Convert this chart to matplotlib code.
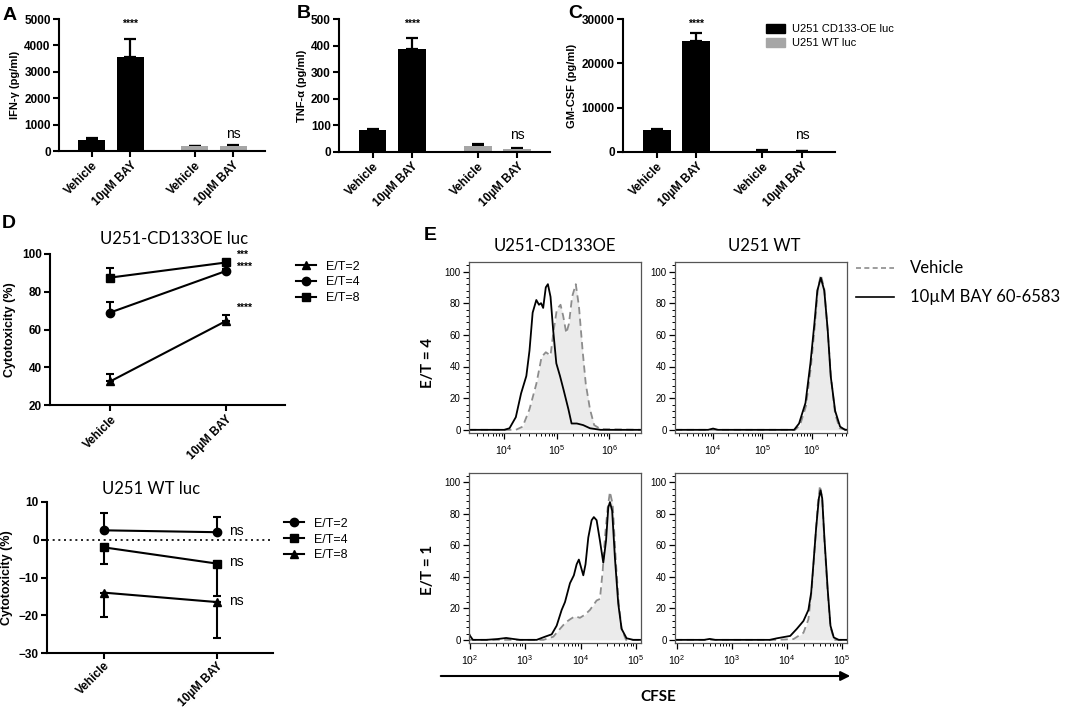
import numpy as np
import matplotlib
matplotlib.use("Agg")
import matplotlib.pyplot as plt
from matplotlib.patches import Patch, FancyArrowPatch
from matplotlib.lines import Line2D
from matplotlib.ticker import MultipleLocator, LogLocator, LogFormatterMathtext, NullFormatter

plt.rcParams['font.family'] = ['Liberation Sans', 'DejaVu Sans']
TITLE_FONT = ['Lato', 'DejaVu Sans']

# ---- data: cytokine release (A-C)
bar_labels = ["Vehicle", "10µM BAY", "Vehicle", "10µM BAY"]
cell_lines = ["U251 CD133-OE luc", "U251 WT luc"]

ifn_oe = [430, 3570]
ifn_oe_err = [50, 660]
ifn_wt = [178, 190]
ifn_wt_err = [27, 26]

tnf_oe = [84, 386]
tnf_oe_err = [3, 41]
tnf_wt = [23, 13]
tnf_wt_err = [8, 2]

gm_oe = [4900, 25100]
gm_oe_err = [380, 1800]
gm_wt = [320, 150]
gm_wt_err = [120, 60]

# ---- data: cytotoxicity (D)
d_cats = ["Vehicle", "10µM BAY"]
oe_labels = ["E/T=2", "E/T=4", "E/T=8"]
oe_cyto = [[32.5, 64.5], [69.0, 91.0], [87.5, 95.5]]
oe_err_up = [[4.0, 3.0], [5.5, 1.2], [5.0, 1.0]]
oe_stars = ["****", "****", "***"]

wt_labels = ["E/T=2", "E/T=4", "E/T=8"]
wt_cyto = [[2.5, 2.0], [-2.0, -6.3], [-14.0, -16.5]]
wt_err_up = [[4.5, 4.0], [0, 0], [0, 0]]
wt_err_dn = [[0, 0], [4.5, 8.7], [6.5, 9.5]]

# ---- data: CFSE histograms (E), log10(CFSE) and % of max
tl_bay_lx = [3.33, 3.8, 4.0, 4.1, 4.22, 4.32, 4.42, 4.48, 4.54, 4.61, 4.66, 4.70, 4.74, 4.79, 4.83,
             4.88, 4.93, 4.99, 5.06, 5.13, 5.22, 5.28, 5.38, 5.5, 5.63, 5.83, 6.6]
tl_bay_y = [0, 0, 0, 1, 8, 23, 34, 50, 74, 82, 79, 80, 77, 90, 92,
            84, 63, 42, 34, 25, 13, 4, 4, 3, 1, 0, 0]
tl_veh_lx = [3.33, 4.22, 4.35, 4.48, 4.61, 4.71, 4.79, 4.88, 4.94, 5.0, 5.07, 5.12, 5.18, 5.23,
             5.29, 5.36, 5.42, 5.49, 5.55, 5.63, 5.71, 5.83, 6.6]
tl_veh_y = [0, 0, 2, 13, 29, 46, 49, 47, 63, 76, 79, 72, 61, 67,
            84, 92, 78, 50, 29, 13, 3, 0.5, 0]

tr_bay_lx = [3.23, 3.9, 4.0, 4.1, 5.64, 5.74, 5.87, 5.97, 6.05, 6.11, 6.18, 6.25, 6.32, 6.38,
             6.47, 6.57, 6.67, 6.71]
tr_bay_y = [0, 0, 0.8, 0, 0, 4, 17, 42, 67, 88, 96, 88, 63, 34, 12, 2, 0, 0]
tr_veh_lx = [3.23, 5.66, 5.76, 5.88, 5.98, 6.06, 6.12, 6.18, 6.25, 6.32, 6.39, 6.47, 6.56, 6.71]
tr_veh_y = [0, 0, 3, 15, 40, 66, 89, 98, 89, 62, 32, 10, 1, 0]

bl_bay_lx = [1.99, 2.01, 2.06, 2.3, 2.5, 2.66, 2.8, 2.91, 3.21, 3.36, 3.48, 3.57, 3.66, 3.72,
             3.81, 3.88, 3.93, 3.97, 4.01, 4.05, 4.09, 4.14, 4.2, 4.24, 4.29, 4.35, 4.41, 4.46,
             4.5, 4.53, 4.57, 4.62, 4.68, 4.74, 4.83, 4.95, 5.09]
bl_bay_y = [4, 2.5, 0, 0, 0.5, 1.2, 0.5, 0, 0, 2, 3.5, 9, 19, 24,
            36, 41, 48, 51, 46, 41, 48, 65, 76, 78, 76, 63, 49, 63,
            84, 87.5, 82, 52, 23, 7, 1, 0, 0]
bl_veh_lx = [1.99, 3.33, 3.51, 3.63, 3.73, 3.81, 3.9, 3.99, 4.08, 4.17, 4.29, 4.35, 4.4, 4.44,
             4.49, 4.53, 4.58, 4.64, 4.69, 4.74, 4.82, 5.09]
bl_veh_y = [0, 0, 2, 7, 11, 13, 15, 14, 16, 19, 25, 26, 44, 65,
            84, 94, 86, 48, 23, 7, 0, 0]

br_bay_lx = [1.97, 2.5, 2.6, 2.7, 3.69, 3.82, 4.06, 4.18, 4.3, 4.39, 4.44, 4.48, 4.53, 4.58,
             4.61, 4.64, 4.68, 4.74, 4.79, 4.85, 4.94, 5.09]
br_bay_y = [0, 0, 0.6, 0, 0, 1, 2.5, 7, 12, 19, 30, 48, 71, 90,
            95, 90, 65, 32, 9, 1.5, 0, 0]
br_veh_lx = [1.97, 3.82, 4.12, 4.3, 4.39, 4.45, 4.51, 4.56, 4.6, 4.64, 4.68, 4.74, 4.79, 4.86, 5.09]
br_veh_y = [0, 0, 0.5, 4.5, 13, 32, 61, 86, 98, 90, 63, 30, 8, 0, 0]

W, H = 1065, 711
fig = plt.figure(figsize=(W / 100, H / 100), dpi=100)


def box(x0, y0, x1, y1):
    # pixel box (top-left origin) -> figure fraction
    return [x0 / W, 1 - y1 / H, (x1 - x0) / W, (y1 - y0) / H]


def fx(x):
    return x / W


def fy(y):
    return 1 - y / H


def style_axes(ax, lw=1.5, size=8.5):
    for s in ['top', 'right']:
        ax.spines[s].set_visible(False)
    for s in ['left', 'bottom']:
        ax.spines[s].set_linewidth(lw)
    ax.tick_params(width=lw, length=4, labelsize=size, pad=2)
    for t in ax.get_yticklabels():
        t.set_fontweight('bold')


def bar_panel(rect, oe, oe_err, wt, wt_err, ymax, ystep, ylabel):
    ax = fig.add_axes(rect)
    pos = np.array([0, 1, 2.67, 3.67])
    vals = oe + wt
    errs = oe_err + wt_err
    colors = ['black', 'black', '#a6a6a6', '#a6a6a6']
    ax.errorbar(pos, vals, yerr=[np.zeros(4), errs], fmt='none', ecolor='black',
                elinewidth=1.6, capsize=4, capthick=1.6, zorder=1)
    ax.bar(pos, vals, width=0.7, color=colors, zorder=2)
    ax.set_xlim(-0.85, 4.5)
    ax.set_ylim(0, ymax)
    ax.set_yticks(np.arange(0, ymax + 1, ystep))
    ax.set_xticks(pos)
    ax.set_xticklabels(bar_labels, rotation=45, ha='right', rotation_mode='anchor',
                       fontweight='bold', fontsize=8.5)
    ax.set_ylabel(ylabel, fontweight='bold', fontsize=8, labelpad=3)
    style_axes(ax)
    ax.text(pos[1], ymax * 0.965, "****", ha='center', va='center', fontsize=7.5, fontweight='bold')
    ax.text(pos[3], ymax * 0.13, "ns", ha='center', va='center', fontsize=10)
    return ax


bar_panel(box(59, 19, 265, 151), ifn_oe, ifn_oe_err, ifn_wt, ifn_wt_err, 5000, 1000, "IFN-γ (pg/ml)")
bar_panel(box(339, 19, 550, 152), tnf_oe, tnf_oe_err, tnf_wt, tnf_wt_err, 500, 100, "TNF-α (pg/ml)")
bar_panel(box(623, 19, 835, 152), gm_oe, gm_oe_err, gm_wt, gm_wt_err, 30000, 10000, "GM-CSF (pg/ml)")

fig.legend(handles=[Patch(color='black'), Patch(color='#a6a6a6')], labels=cell_lines,
           loc='upper left', bbox_to_anchor=(fx(756), fy(14)), frameon=False, fontsize=8,
           handlelength=1.7, handleheight=0.8, handletextpad=0.6, labelspacing=0.35)

fig.text(fx(3), fy(15), "A", fontsize=14, fontweight='bold', va='center')
fig.text(fx(297), fy(14), "B", fontsize=14, fontweight='bold', va='center')
fig.text(fx(568), fy(14), "C", fontsize=14, fontweight='bold', va='center')
fig.text(fx(2), fy(223), "D", fontsize=14, fontweight='bold', va='center')
fig.text(fx(424), fy(235), "E", fontsize=14, fontweight='bold', va='center')


def marker_handles(markers, labels):
    return [Line2D([], [], color='black', lw=1.5, marker=m, ms=6) for m in markers], labels


# ---- D: cytotoxicity
markers_top = ['^', 'o', 's']
ax = fig.add_axes(box(50, 254, 285, 405))
for i in range(3):
    ax.errorbar([0, 1], oe_cyto[i], yerr=[[0, 0], oe_err_up[i]], color='black', lw=1.5,
                marker=markers_top[i], ms=6, capsize=3, capthick=1.5, elinewidth=1.5)
ax.set_xlim(-0.52, 1.51)
ax.set_ylim(20, 100)
ax.set_yticks([20, 40, 60, 80, 100])
ax.set_xticks([0, 1])
ax.set_xticklabels(d_cats, rotation=45, ha='right', rotation_mode='anchor', fontweight='bold', fontsize=8.5)
ax.set_ylabel("Cytotoxicity (%)", fontweight='bold', fontsize=9)
style_axes(ax)
for i, yy in enumerate([71.5, 93.0, 99.5]):
    ax.text(1.09, yy, oe_stars[i], fontsize=7.5, fontweight='bold', va='center')
fig.text(fx(174), fy(239), "U251-CD133OE luc", family=TITLE_FONT, fontsize=12, ha='center', va='center')
h, l = marker_handles(markers_top, oe_labels)
ax.legend(h, l, loc='upper left', bbox_to_anchor=(1.0, 1.03), frameon=False, fontsize=9,
          handlelength=1.6, labelspacing=0.3)

markers_bot = ['o', 's', '^']
ax = fig.add_axes(box(47, 502, 273, 653))
ax.axhline(0, color='black', ls=(0, (1.2, 2.2)), lw=1.2)
for i in range(3):
    ax.errorbar([0, 1], wt_cyto[i], yerr=[wt_err_dn[i], wt_err_up[i]], color='black', lw=1.5,
                marker=markers_bot[i], ms=6, capsize=3, capthick=1.5, elinewidth=1.5)
    ax.text(1.11, wt_cyto[i][1] + 0.4, "ns", fontsize=10, va='center')
ax.set_xlim(-0.5, 1.5)
ax.set_ylim(-30, 10)
ax.set_yticks([-30, -20, -10, 0, 10])
ax.set_xticks([0, 1])
ax.set_xticklabels(d_cats, rotation=45, ha='right', rotation_mode='anchor', fontweight='bold', fontsize=7.5)
ax.set_ylabel("Cytotoxicity (%)", fontweight='bold', fontsize=9)
style_axes(ax)
ax.tick_params(axis='x', pad=1)
fig.text(fx(151), fy(489), "U251 WT luc", family=TITLE_FONT, fontsize=12, ha='center', va='center')
h, l = marker_handles(markers_bot, wt_labels)
ax.legend(h, l, loc='upper left', bbox_to_anchor=(1.0, 0.97), frameon=False, fontsize=9,
          handlelength=1.6, labelspacing=0.3)


# ---- E: CFSE histograms
def hist_panel(rect, bay_lx, bay_y, veh_lx, veh_y, lo, hi):
    ax = fig.add_axes(rect)
    ax.set_xscale('log')
    vx = 10 ** np.array(veh_lx)
    ax.fill_between(vx, veh_y, color='#ebebeb', lw=0)
    ax.plot(vx, veh_y, color='#8c8c8c', ls=(0, (4, 2.5)), lw=1.3)
    ax.plot(10 ** np.array(bay_lx), bay_y, color='black', lw=1.3)
    ax.set_xlim(10 ** lo, 10 ** hi)
    ax.set_ylim(-2, 106)
    ax.yaxis.set_major_locator(MultipleLocator(20))
    ax.yaxis.set_minor_locator(MultipleLocator(4))
    ax.xaxis.set_major_locator(LogLocator(base=10))
    ax.xaxis.set_minor_locator(LogLocator(base=10, subs=np.arange(2, 10)))
    ax.xaxis.set_major_formatter(LogFormatterMathtext())
    ax.xaxis.set_minor_formatter(NullFormatter())
    for s in ax.spines.values():
        s.set_color('#555555')
        s.set_linewidth(0.9)
    ax.tick_params(which='major', length=4, width=0.9, labelsize=7, pad=2)
    ax.tick_params(axis='x', which='major', labelsize=7.5, pad=3)
    ax.tick_params(which='minor', length=2, width=0.7)
    return ax


hist_panel(box(469, 262, 641, 433), tl_bay_lx, tl_bay_y, tl_veh_lx, tl_veh_y, 3.33, 6.6)
hist_panel(box(675, 262, 847, 433), tr_bay_lx, tr_bay_y, tr_veh_lx, tr_veh_y, 3.23, 6.71)
hist_panel(box(469, 473, 641, 643), bl_bay_lx, bl_bay_y, bl_veh_lx, bl_veh_y, 1.99, 5.09)
hist_panel(box(675, 473, 847, 643), br_bay_lx, br_bay_y, br_veh_lx, br_veh_y, 1.97, 5.09)

fig.text(fx(555), fy(246), "U251-CD133OE", family=TITLE_FONT, fontsize=12, ha='center', va='center')
fig.text(fx(764), fy(246), "U251 WT", family=TITLE_FONT, fontsize=12, ha='center', va='center')
fig.text(fx(428), fy(363), "E/T = 4", family=TITLE_FONT, fontsize=11, fontweight='bold',
         rotation=90, ha='center', va='center')
fig.text(fx(428), fy(570), "E/T = 1", family=TITLE_FONT, fontsize=11, fontweight='bold',
         rotation=90, ha='center', va='center')

fig.add_artist(Line2D([fx(856), fx(894)], [fy(268), fy(268)], color='#8c8c8c', ls=(0, (3, 2)), lw=1.2))
fig.add_artist(Line2D([fx(856), fx(894)], [fy(297), fy(297)], color='black', lw=1.2))
fig.text(fx(910), fy(268), "Vehicle", family=TITLE_FONT, fontsize=12, va='center')
fig.text(fx(910), fy(297), "10µM BAY 60-6583", family=TITLE_FONT, fontsize=12, va='center')

fig.add_artist(FancyArrowPatch((fx(438), fy(676)), (fx(853), fy(676)), transform=fig.transFigure,
                               arrowstyle='-|>', mutation_scale=14, lw=1.5, color='black'))
fig.text(fx(658), fy(697), "CFSE", family=TITLE_FONT, fontsize=11, fontweight='bold',
         ha='center', va='center')

fig.savefig("out.png", dpi=100)
